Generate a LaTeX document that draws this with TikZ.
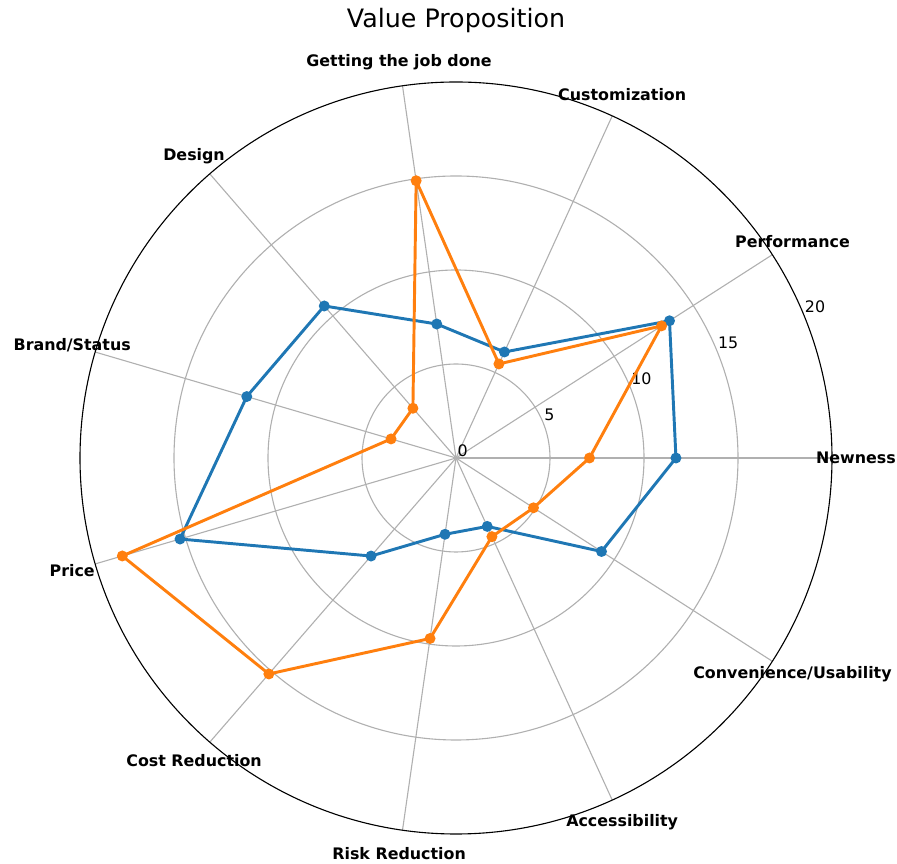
\documentclass[tikz,border=0pt]{standalone}
\usepackage{fontspec}
\setmainfont{DejaVu Sans}
\definecolor{tabblue}{HTML}{1F77B4}
\definecolor{taborange}{HTML}{FF7F0E}
\definecolor{gridgray}{HTML}{B0B0B0}

\begin{document}
\begin{tikzpicture}[
      x=0.75pt, y=0.75pt,
      grid/.style={draw=gridgray, line width=0.83pt},
      series/.style={line width=2.2pt, line join=round},
      axislabel/.style={font=\fontsize{11.9}{14}\selectfont\bfseries, inner sep=0pt},
      ticklabel/.style={font=\fontsize{11.9}{14}\selectfont, anchor=south west, inner sep=1pt}
    ]
      \useasboundingbox (0,0) rectangle (897,864);
      \node[font=\fontsize{19}{22}\selectfont] (title) at (456,843) {Value Proposition};
      \begin{scope}[shift={(456,406)}]
        % rings and spokes
        \foreach \r in {5,10,15}
          \draw[grid] (0,0) circle (\r*18.8);
        \foreach \i in {0,...,10}
          \draw[grid] (0,0) -- (\i*360/11:376);
        \draw[line width=0.83pt] (0,0) circle (376);
        \foreach \r in {0,5,...,20}
          \node[ticklabel] (tick\r) at (22.5:\r*18.8) {\r};
        \foreach \i/\lab in {0/Newness, 1/Performance, 2/Customization,
            3/Getting the job done, 4/Design, 5/Brand\slash Status, 6/Price,
            7/Cost Reduction, 8/Risk Reduction, 9/Accessibility,
            10/Convenience\slash Usability}
          \node[axislabel] (lab\i) at (\i*360/11:400) {\lab};
        % data points
        \foreach \i/\v in {0/11.7, 1/13.5, 2/6.2, 3/7.2, 4/10.7, 5/11.6,
            6/15.3, 7/6.9, 8/4.1, 9/4.0, 10/9.2}
          \coordinate (b\i) at (\i*360/11:\v*18.8);
        \foreach \i/\v in {0/7.1, 1/13.0, 2/5.5, 3/14.9, 4/3.5, 5/3.6,
            6/18.5, 7/15.2, 8/9.7, 9/4.6, 10/4.9}
          \coordinate (o\i) at (\i*360/11:\v*18.8);
        \draw[series, tabblue] (b0) -- (b1) -- (b2) -- (b3) -- (b4) -- (b5)
          -- (b6) -- (b7) -- (b8) -- (b9) -- (b10) -- cycle;
        \foreach \i in {0,...,10}
          \fill[tabblue] (b\i) circle (5.5);
        \draw[series, taborange] (o0) -- (o1) -- (o2) -- (o3) -- (o4) -- (o5)
          -- (o6) -- (o7) -- (o8) -- (o9) -- (o10) -- cycle;
        \foreach \i in {0,...,10}
          \fill[taborange] (o\i) circle (5.5);
      \end{scope}
    \end{tikzpicture}
\end{document}
